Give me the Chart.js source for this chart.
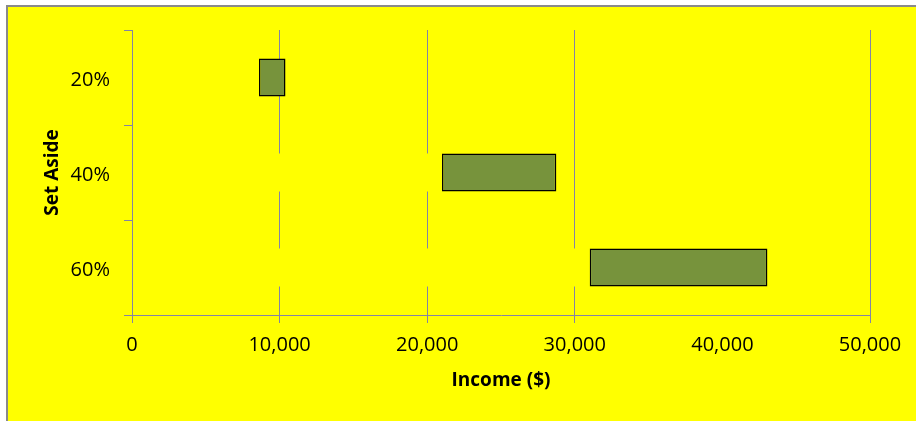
<!DOCTYPE html>
<html>
<head>
<meta charset="utf-8">
<script src="https://cdn.jsdelivr.net/npm/chart.js@4/dist/chart.umd.min.js"></script>
<style>
  html, body { margin: 0; padding: 0; background: #fff; }
  #frame {
    position: absolute; left: 6px; top: 5px; right: 0; bottom: 0;
    background: #ffff00;
    border-left: 2px solid #8a8a8a;
    border-top: 2px solid #8a8a8a;
  }
  #set-aside { position: absolute; left: 0; top: 0; }
</style>
</head>
<body>
<div id="frame"></div>
<canvas id="set-aside" width="916" height="421"></canvas>
<script>
// income band for each set-aside level
var setAside = ['20%', '40%', '60%']
var incomeLow = [8600, 21000, 31000]
var incomeHigh = [10400, 28750, 43050]
var incomeTicks = [0, 10000, 20000, 30000, 40000, 50000]

var gridColor = '#8484a4'

// the band is stacked on a yellow spacer running from 0 to the low value
var bandWidth = []
for (var i = 0; i < setAside.length; i++) {
  bandWidth[bandWidth.length] = incomeHigh[i] - incomeLow[i]
}

var ctx = document.getElementById('set-aside')
var chart = new Chart(ctx, {
  type: 'bar',
  data: {
    labels: setAside,
    datasets: [{
      label: 'spacer',
      data: incomeLow,
      backgroundColor: '#ffff00',
      borderWidth: 0
    }, {
      label: 'Income',
      data: bandWidth,
      backgroundColor: '#77933c',
      borderColor: '#000000',
      borderWidth: 1.5,
      borderSkipped: false
    }]
  },
  options: {
    indexAxis: 'y',
    responsive: false,
    animation: false,
    barPercentage: 0.4,
    categoryPercentage: 1.0,
    layout: { padding: { top: 30, right: 46, left: 0, bottom: 0 } },
    plugins: {
      legend: { display: false },
      tooltip: { enabled: false }
    },
    scales: {
      x: {
        stacked: true,
        min: 0,
        max: 50000,
        afterBuildTicks: function(scale) {
          scale.ticks = incomeTicks.map(function(v) { return { value: v } })
        },
        afterFit: function(scale) { scale.height = 106 },
        grid: {
          color: function(c) {
            return c.tick && c.tick.value === 40000 ? 'rgba(0,0,0,0)' : gridColor
          },
          tickLength: 8,
          lineWidth: 1
        },
        border: { color: gridColor },
        ticks: {
          color: '#000',
          padding: 10,
          maxRotation: 0,
          font: { family: 'Open Sans', size: 20 },
          callback: function(v) { return v.toLocaleString('en-US') }
        },
        title: {
          display: true,
          text: 'Income ($)',
          color: '#000',
          font: { family: 'Open Sans', size: 19, weight: 'bold' },
          padding: { top: 0, bottom: 29 }
        }
      },
      y: {
        stacked: true,
        afterFit: function(scale) { scale.width = 132 },
        grid: {
          offset: true,
          drawOnChartArea: false,
          color: gridColor,
          tickLength: 8
        },
        border: { color: gridColor, z: 1 },
        ticks: {
          color: '#000',
          padding: 14,
          labelOffset: 3,
          font: { family: 'Open Sans', size: 20 }
        },
        title: {
          display: true,
          text: 'Set Aside',
          color: '#000',
          font: { family: 'Open Sans', size: 19, weight: 'bold' },
          padding: { top: 41, bottom: 0 }
        }
      }
    }
  }
})
</script>
</body>
</html>
